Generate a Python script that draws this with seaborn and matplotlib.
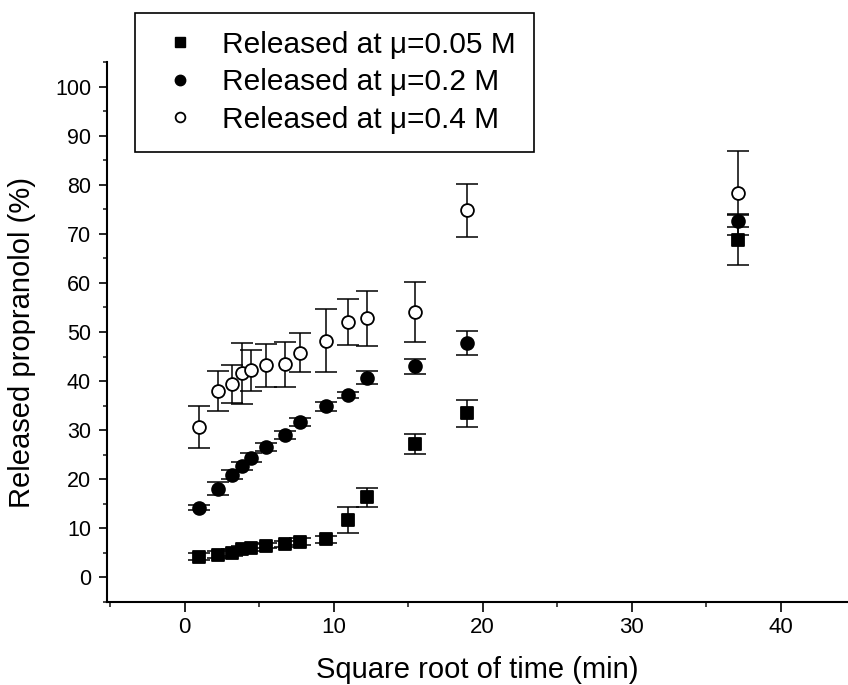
import numpy as np
import pandas as pd
import matplotlib
matplotlib.use("Agg")
import matplotlib.pyplot as plt
import seaborn as sns
from matplotlib.lines import Line2D
from matplotlib.ticker import MultipleLocator

# ---- data ----
sqrt_time = [1.0, 2.24, 3.16, 3.87, 4.47, 5.48, 6.71, 7.75, 9.49, 10.95, 12.25, 15.49, 18.97, 37.15]

rel_005 = [4.2, 4.6, 5.0, 5.8, 6.1, 6.5, 6.8, 7.3, 7.8, 11.7, 16.3, 27.1, 33.4, 68.8]
err_005 = [0.7, 0.7, 0.7, 0.7, 0.7, 0.6, 0.6, 0.7, 0.7, 2.7, 1.9, 2.05, 2.7, 5.1]

rel_02 = [14.2, 18.1, 20.9, 22.7, 24.4, 26.6, 29.0, 31.7, 34.9, 37.1, 40.7, 43.0, 47.8, 72.7]
err_02 = [0.5, 1.4, 0.9, 0.9, 0.9, 0.8, 0.8, 0.8, 0.9, 0.6, 1.3, 1.6, 2.5, 1.3]

rel_04 = [30.6, 38.0, 39.4, 41.6, 42.2, 43.2, 43.4, 45.8, 48.2, 52.0, 52.8, 54.1, 74.8, 78.3]
err_04 = [4.3, 4.1, 3.9, 6.2, 4.2, 4.4, 4.6, 3.9, 6.4, 4.7, 5.6, 6.1, 5.35, 8.6]

series_labels = ["Released at \u03bc=0.05 M", "Released at \u03bc=0.2 M", "Released at \u03bc=0.4 M"]
x_ticks = [0, 10, 20, 30, 40]
y_ticks = [0, 10, 20, 30, 40, 50, 60, 70, 80, 90, 100]
x_label = "Square root of time (min)"
y_label = "Released propranolol (%)"

# ---- style ----
sns.set_style("ticks")
plt.rcParams['font.family'] = ['Liberation Sans', 'DejaVu Sans']
plt.rcParams['text.color'] = 'black'

fig = plt.figure(figsize=(8.48, 6.85), dpi=100)
ax = fig.add_axes([107 / 848, 1 - 602 / 685, (848 - 107) / 848, 540 / 685])

series = [
    (rel_005, err_005, 's', 'black', 64),
    (rel_02, err_02, 'o', 'black', 85),
    (rel_04, err_04, 'o', 'white', 85),
]

for vals, errs, mk, fc, size in series:
    df = pd.DataFrame({"x": sqrt_time, "y": vals, "e": errs})
    ax.errorbar(df["x"], df["y"], yerr=df["e"], fmt='none', ecolor='black',
                elinewidth=1.1, capsize=7.8, capthick=1.1, zorder=2)
    sns.scatterplot(data=df, x="x", y="y", marker=mk, s=size, color=fc,
                    edgecolor='black', linewidth=1.3, ax=ax, zorder=3, legend=False)

ax.set_xlim(-5.2, 44.5)
ax.set_ylim(-5, 105)
ax.set_xticks(x_ticks)
ax.set_yticks(y_ticks)
ax.xaxis.set_minor_locator(MultipleLocator(5))
ax.yaxis.set_minor_locator(MultipleLocator(5))

sns.despine(ax=ax)
for s in ['left', 'bottom']:
    ax.spines[s].set_linewidth(1.5)
    ax.spines[s].set_color('black')

ax.tick_params(axis='x', which='major', direction='out', length=7, width=1.2,
               labelsize=16, pad=4, colors='black')
ax.tick_params(axis='x', which='minor', direction='out', length=3.5, width=1.2)
ax.tick_params(axis='y', which='major', direction='out', length=5.5, width=1.2,
               labelsize=15.5, pad=6, colors='black')
ax.tick_params(axis='y', which='minor', direction='out', length=3, width=1.2)

ax.set_xlabel(x_label, fontsize=21, color='black')
ax.set_ylabel(y_label, fontsize=21, color='black')
ax.xaxis.set_label_coords(0.5, -0.10)
ax.yaxis.set_label_coords(-0.096, 0.48)

handles = [
    Line2D([], [], linestyle='none', marker='s', markersize=7.5,
           markerfacecolor='black', markeredgecolor='black'),
    Line2D([], [], linestyle='none', marker='o', markersize=7.5,
           markerfacecolor='black', markeredgecolor='black'),
    Line2D([], [], linestyle='none', marker='o', markersize=7.0,
           markerfacecolor='white', markeredgecolor='black', markeredgewidth=1.3),
]
leg = ax.legend(handles, series_labels, loc='upper left',
                bbox_to_anchor=(135 / 848, 1 - 12.7 / 685),
                bbox_transform=fig.transFigure, frameon=True, fancybox=False,
                edgecolor='black', framealpha=1, fontsize=21.5, borderpad=0.6,
                handlelength=1.8, handletextpad=0.52, labelspacing=0.32,
                borderaxespad=0, labelcolor='black')
leg.get_frame().set_linewidth(1.2)

fig.savefig("out.png", dpi=100)
